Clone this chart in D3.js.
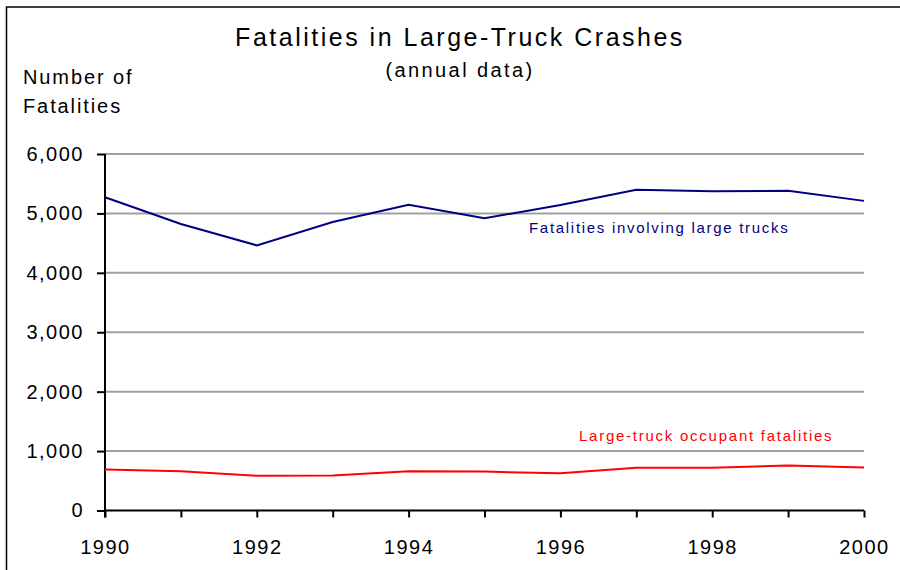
<!DOCTYPE html>
<html>
<head>
<meta charset="utf-8">
<script src="https://cdn.jsdelivr.net/npm/d3@7"></script>
<style>
  body { margin: 0; background: #fff; }
  text { font-family: "Liberation Sans", Arial, sans-serif; }
</style>
</head>
<body>
<div id="chart"></div>
<script>
// data
const years = [1990, 1991, 1992, 1993, 1994, 1995, 1996, 1997, 1998, 1999, 2000];
const involving = [5272, 4821, 4462, 4856, 5144, 4918, 5142, 5398, 5374, 5380, 5211];
const occupant = [690, 661, 585, 590, 660, 655, 625, 720, 720, 759, 725];
const yTicks = [0, 1000, 2000, 3000, 4000, 5000, 6000];
const xLabels = [1990, 1992, 1994, 1996, 1998, 2000];

const width = 900, height = 570;
const plotLeft = 105, plotRight = 864, plotTop = 154, plotBottom = 510.5;

const svg = d3.select("#chart").append("svg")
  .attr("width", width)
  .attr("height", height);

// frame (runs off the right and bottom edge)
svg.append("rect")
  .attr("x", 6.5).attr("y", 7)
  .attr("width", 920).attr("height", 600)
  .attr("fill", "none").attr("stroke", "#000").attr("stroke-width", 1.5);

let x = d3.scaleLinear().domain([1990, 2000]).range([plotLeft, plotRight]);
let y = d3.scaleLinear().domain([0, 6000]).range([plotBottom, plotTop]);

// gridlines
svg.selectAll(".grid")
  .data(yTicks.filter(d => d > 0))
  .enter().append("line")
  .attr("x1", plotLeft).attr("x2", plotRight)
  .attr("y1", d => y(d)).attr("y2", d => y(d))
  .attr("stroke", "#a0a0a0").attr("stroke-width", 2);

// y axis
let yAxis = svg.append("g")
  .attr("transform", `translate(${plotLeft},0)`)
  .call(d3.axisLeft(y).tickValues(yTicks).tickSize(8).tickPadding(13)
    .tickFormat(d3.format(",")));
yAxis.select(".domain").remove();
yAxis.append("line")
  .attr("x1", 0).attr("x2", 0)
  .attr("y1", plotTop).attr("y2", plotBottom + 7)
  .attr("stroke", "#000").attr("stroke-width", 2);

// x axis
let xAxis = svg.append("g")
  .attr("transform", `translate(0,${plotBottom})`)
  .call(d3.axisBottom(x).tickValues(years).tickSize(7).tickPadding(22)
    .tickFormat(d => xLabels.includes(d) ? d : ""));
xAxis.select(".domain").remove();
xAxis.append("line")
  .attr("x1", plotLeft).attr("x2", plotRight)
  .attr("stroke", "#000").attr("stroke-width", 2);

svg.selectAll(".tick line").attr("stroke", "#000").attr("stroke-width", 2);
svg.selectAll(".tick text")
  .attr("font-size", 20)
  .attr("fill", "#000")
  .style("letter-spacing", "1.5px")
  .style("font-family", "'Liberation Sans', Arial, sans-serif");

// lines
let line = d3.line().x((d, i) => x(years[i])).y(d => y(d));

svg.append("path").datum(involving)
  .attr("d", line)
  .attr("fill", "none").attr("stroke", "#000080").attr("stroke-width", 2);

svg.append("path").datum(occupant)
  .attr("d", line)
  .attr("fill", "none").attr("stroke", "#ff0000").attr("stroke-width", 2);

// series labels
svg.append("text")
  .attr("x", 529).attr("y", 233)
  .attr("font-size", 15).attr("fill", "#000080")
  .style("letter-spacing", "1.7px")
  .text("Fatalities involving large trucks");

svg.append("text")
  .attr("x", 579).attr("y", 441)
  .attr("font-size", 15).attr("fill", "#ff0000")
  .style("letter-spacing", "1.75px")
  .text("Large-truck occupant fatalities");

// titles
svg.append("text")
  .attr("x", 460).attr("y", 46)
  .attr("text-anchor", "middle")
  .attr("font-size", 25)
  .style("letter-spacing", "2.5px")
  .text("Fatalities in Large-Truck Crashes");

svg.append("text")
  .attr("x", 460).attr("y", 77)
  .attr("text-anchor", "middle")
  .attr("font-size", 20)
  .style("letter-spacing", "2.4px")
  .text("(annual data)");

svg.append("text")
  .attr("x", 23).attr("y", 84)
  .attr("font-size", 20)
  .style("letter-spacing", "1.9px")
  .text("Number of");

svg.append("text")
  .attr("x", 23).attr("y", 113)
  .attr("font-size", 20)
  .style("letter-spacing", "1.9px")
  .text("Fatalities");
</script>
</body>
</html>
